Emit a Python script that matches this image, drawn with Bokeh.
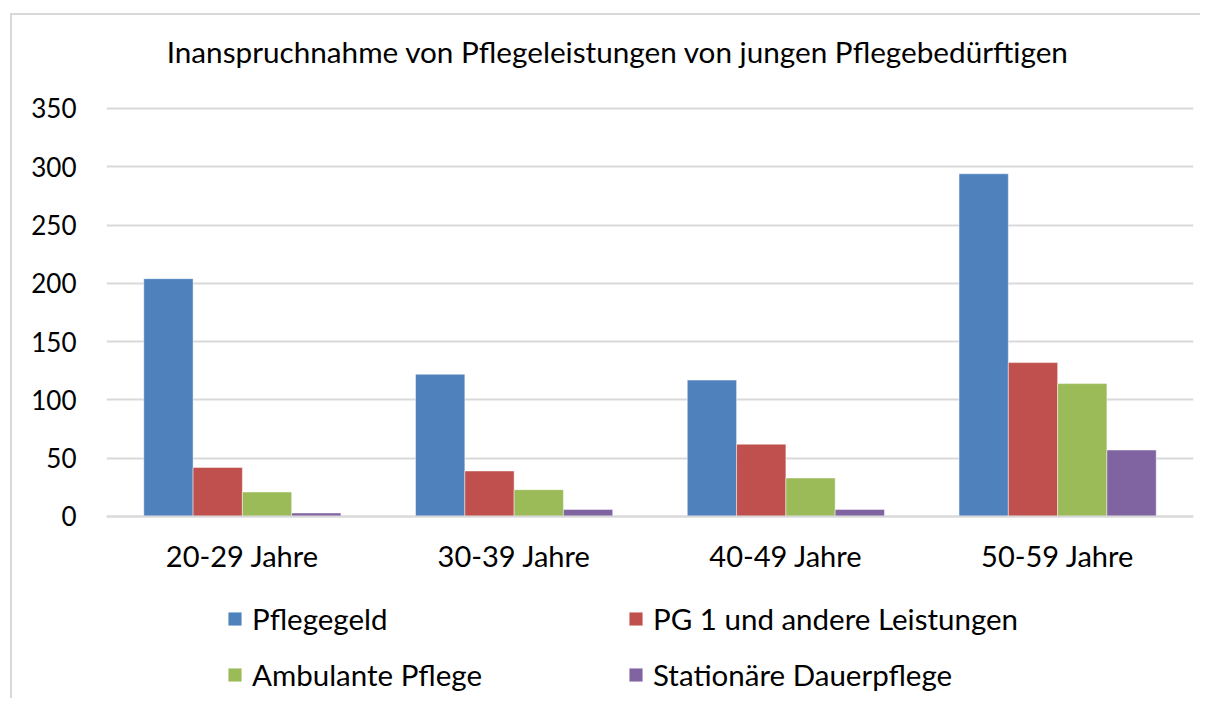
from bokeh.plotting import figure
from bokeh.models import FactorRange, Range1d, Legend, LegendItem, Label, ColumnDataSource, FixedTicker
from bokeh.transform import dodge
from bokeh.embed import file_html
from bokeh.resources import INLINE

categories = ["20-29 Jahre", "30-39 Jahre", "40-49 Jahre", "50-59 Jahre"]
series_names = ["Pflegegeld", "PG 1 und andere Leistungen", "Ambulante Pflege", "Stationäre Dauerpflege"]
pflegegeld = [204, 122, 117, 294]
pg1_andere = [42, 39, 62, 132]
ambulant = [21, 23, 33, 114]
stationaer = [3, 6, 6, 57]
colors = ["#4F81BD", "#C0504D", "#9BBB59", "#8064A2"]
y_ticks = [0, 50, 100, 150, 200, 250, 300, 350]
title_text = "Inanspruchnahme von Pflegeleistungen von jungen Pflegebedürftigen"

FONT = "Lato"
cols = ["pflegegeld", "pg1_andere", "ambulant", "stationaer"]
source = ColumnDataSource(dict(cat=categories, pflegegeld=pflegegeld, pg1_andere=pg1_andere,
                               ambulant=ambulant, stationaer=stationaer))

# the frame spans the whole chart area so the title and legend are drawn inside it;
# the 0..350 value scale keeps the reference's pixel size
p = figure(x_range=FactorRange(*categories, range_padding=0), y_range=Range1d(-151, 429.78),
           width=1190, height=685, output_backend="svg", toolbar_location=None,
           min_border_left=94, min_border_right=9, min_border_top=0, min_border_bottom=8,
           title=None)
p.styles = {"border-top": "2px solid #D9D9D9", "border-left": "2px solid #D9D9D9",
            "margin-left": "10px", "margin-top": "13px"}
p.outline_line_color = None
p.background_fill_color = "white"
p.border_fill_color = "white"

bw = 0.1814
renderers = []
for i, c in enumerate(cols):
    r = p.vbar(x=dodge("cat", (i - 1.5) * bw, range=p.x_range), top=c, bottom=0, width=bw,
               source=source, fill_color=colors[i], line_color="white", line_alpha=0.45,
               line_width=1)
    renderers.append(r)

p.xgrid.grid_line_color = None
p.ygrid.grid_line_color = "#D9D9D9"
p.ygrid.grid_line_width = 2
p.yaxis.ticker = FixedTicker(ticks=y_ticks)
p.yaxis.axis_line_color = None
p.yaxis.major_tick_line_color = None
p.yaxis.minor_tick_line_color = None
p.yaxis.major_tick_out = 0
p.yaxis.major_label_standoff = 30
p.yaxis.major_label_text_font = FONT
p.yaxis.major_label_text_font_size = "26px"
p.yaxis.major_label_text_color = "black"

p.xaxis.fixed_location = 0
p.xaxis.axis_line_color = "#D9D9D9"
p.xaxis.axis_line_width = 2
p.xaxis.major_tick_line_color = None
p.xaxis.minor_tick_line_color = None
p.xaxis.major_tick_out = 0
p.xaxis.major_label_standoff = 22
p.xaxis.major_label_text_font = FONT
p.xaxis.major_label_text_font_size = "29px"
p.xaxis.major_label_text_color = "black"

title = Label(x=511.5, y=641.5, x_units="screen", y_units="screen", text=title_text,
              text_align="center", text_baseline="alphabetic", text_font=FONT,
              text_font_size="29.7px", text_color="black")
p.add_layout(title)

legend = Legend(items=[LegendItem(label=n, renderers=[r]) for n, r in zip(series_names, renderers)],
                location=(120, 0), orientation="horizontal", ncols=2,
                glyph_width=17, glyph_height=17, label_standoff=9, label_width=354,
                label_height=17, spacing=21, padding=0, margin=0,
                label_text_font=FONT, label_text_font_size="29.5px", label_text_color="black",
                border_line_color=None, background_fill_alpha=0)
p.add_layout(legend)

open("out.html", "w").write(file_html(p, INLINE))
